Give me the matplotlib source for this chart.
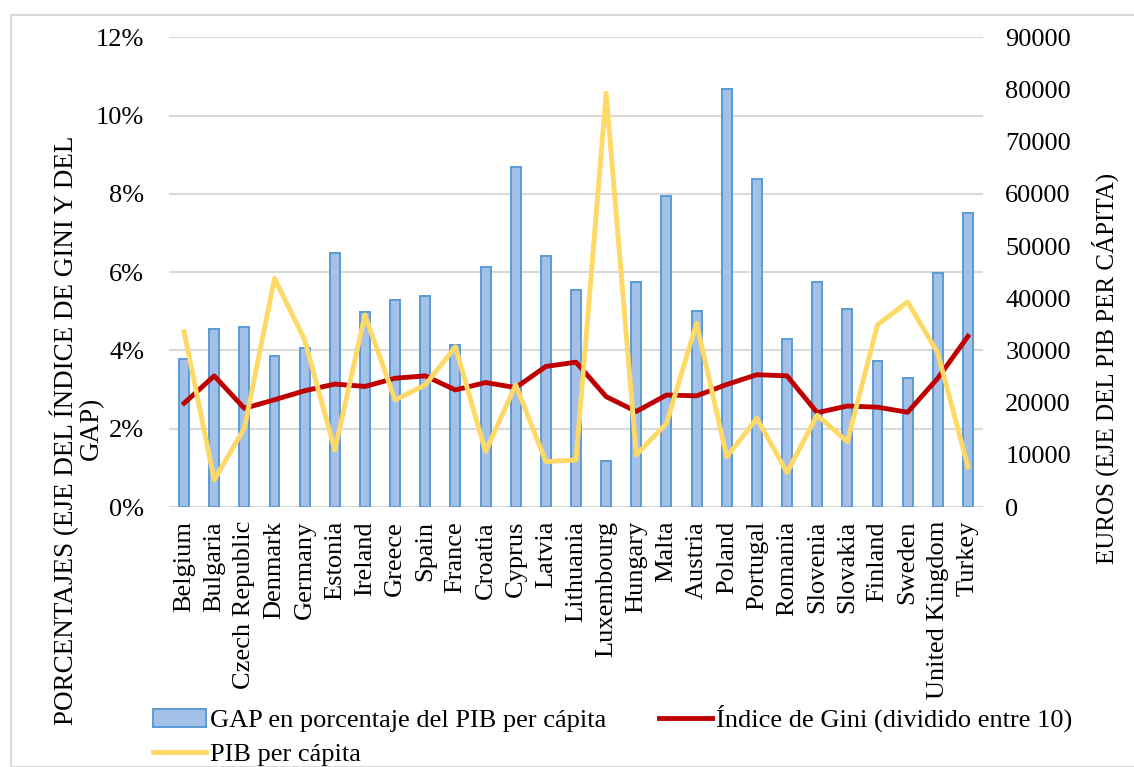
import matplotlib
matplotlib.use("Agg")
import matplotlib.pyplot as plt
from matplotlib.patches import Rectangle
import numpy as np

plt.rcParams['font.family'] = ['Liberation Serif', 'DejaVu Serif']

countries = ["Belgium", "Bulgaria", "Czech Republic", "Denmark", "Germany", "Estonia",
             "Ireland", "Greece", "Spain", "France", "Croatia", "Cyprus", "Latvia",
             "Lithuania", "Luxembourg", "Hungary", "Malta", "Austria", "Poland",
             "Portugal", "Romania", "Slovenia", "Slovakia", "Finland", "Sweden",
             "United Kingdom", "Turkey"]
gap_pct = [3.79, 4.54, 4.59, 3.86, 4.07, 6.49, 4.97, 5.29, 5.38, 4.15, 6.13, 8.69, 6.42,
           5.54, 1.18, 5.74, 7.95, 5.02, 10.69, 8.39, 4.29, 5.75, 5.06, 3.72, 3.30,
           5.99, 7.50]
gini_div10 = [2.65, 3.35, 2.52, 2.74, 2.97, 3.14, 3.08, 3.29, 3.35, 2.99, 3.18, 3.05, 3.59,
              3.70, 2.82, 2.44, 2.86, 2.84, 3.13, 3.38, 3.35, 2.41, 2.58, 2.55, 2.42,
              3.29, 4.36]
pib_pc = [33600, 5200, 15100, 43800, 32000, 10900, 36800, 20500, 23400, 30700, 10600,
          23400, 8700, 9000, 79300, 10000, 16000, 35200, 9600, 17000, 6600, 17600,
          12500, 34900, 39300, 29500, 7700]

left_ticks = [0, 2, 4, 6, 8, 10, 12]
right_ticks = [0, 10000, 20000, 30000, 40000, 50000, 60000, 70000, 80000, 90000]

W, H = 1134, 767
fig = plt.figure(figsize=(W / 100, H / 100), dpi=100)

# chart-area border
fig.patches.append(Rectangle((11 / W, 0), 1.2, 1 - 15 / H, transform=fig.transFigure,
                             fill=False, edgecolor='#d9d9d9', linewidth=1.5))

ax = fig.add_axes([169 / W, 1 - 507 / H, (983 - 169) / W, (507 - 37.3) / H])
x = np.arange(len(countries))

grid_c = '#d9d9d9'
for t in left_ticks:
    ax.axhline(t, color=grid_c, linewidth=1.5, zorder=0)

bars = ax.bar(x, gap_pct, width=0.33, color='#a3c1e8', edgecolor='#5b9bd5',
              linewidth=1.4, zorder=2, label='GAP en porcentaje del PIB per cápita')
gini_line, = ax.plot(x, gini_div10, color='#c00000', linewidth=3.5, zorder=3,
                     solid_joinstyle='round', label='Índice de Gini (dividido entre 10)')

ax.set_xlim(-0.5, len(countries) - 0.5)
ax.set_ylim(0, 12)
ax.set_yticks(left_ticks)
ax.set_yticklabels([f"{t}%" for t in left_ticks])
ax.set_xticks(x)
ax.set_xticklabels(countries, rotation=90, va='top', ha='center')
ax.tick_params(axis='x', length=0, pad=10, labelsize=19)
ax.tick_params(axis='y', length=0, pad=18, labelsize=19)
for s in ax.spines.values():
    s.set_visible(False)

ax2 = ax.twinx()
pib_line, = ax2.plot(x, pib_pc, color='#ffd966', linewidth=3.5, zorder=4,
                     solid_joinstyle='round', label='PIB per cápita')
ax2.set_ylim(0, 90000)
ax2.set_yticks(right_ticks)
ax2.set_yticklabels([str(t) for t in right_ticks])
ax2.tick_params(axis='y', length=0, pad=16, labelsize=19)
for s in ax2.spines.values():
    s.set_visible(False)

fig.text(64 / W, 1 - 430 / H, "PORCENTAJES (EJE DEL ÍNDICE DE GINI Y DEL",
         rotation=90, ha='center', va='center', fontsize=19.5)
fig.text(91 / W, 1 - 428 / H, "GAP)", rotation=90, ha='center', va='center', fontsize=19.5)
fig.text(1105 / W, 1 - 368 / H, "EUROS (EJE DEL PIB PER CÁPITA)",
         rotation=90, ha='center', va='center', fontsize=18)

fig.legend(handles=[bars, pib_line, gini_line],
           labels=['GAP en porcentaje del PIB per cápita', 'PIB per cápita',
                   'Índice de Gini (dividido entre 10)'],
           ncol=2, loc='upper left', bbox_to_anchor=(153 / W, 1 - 705 / H),
           frameon=False, fontsize=19, borderpad=0, borderaxespad=0,
           handlelength=2.0, handletextpad=0.15, columnspacing=2.0,
           labelspacing=0.4, handleheight=0.7)

fig.savefig("out.png", dpi=100)
